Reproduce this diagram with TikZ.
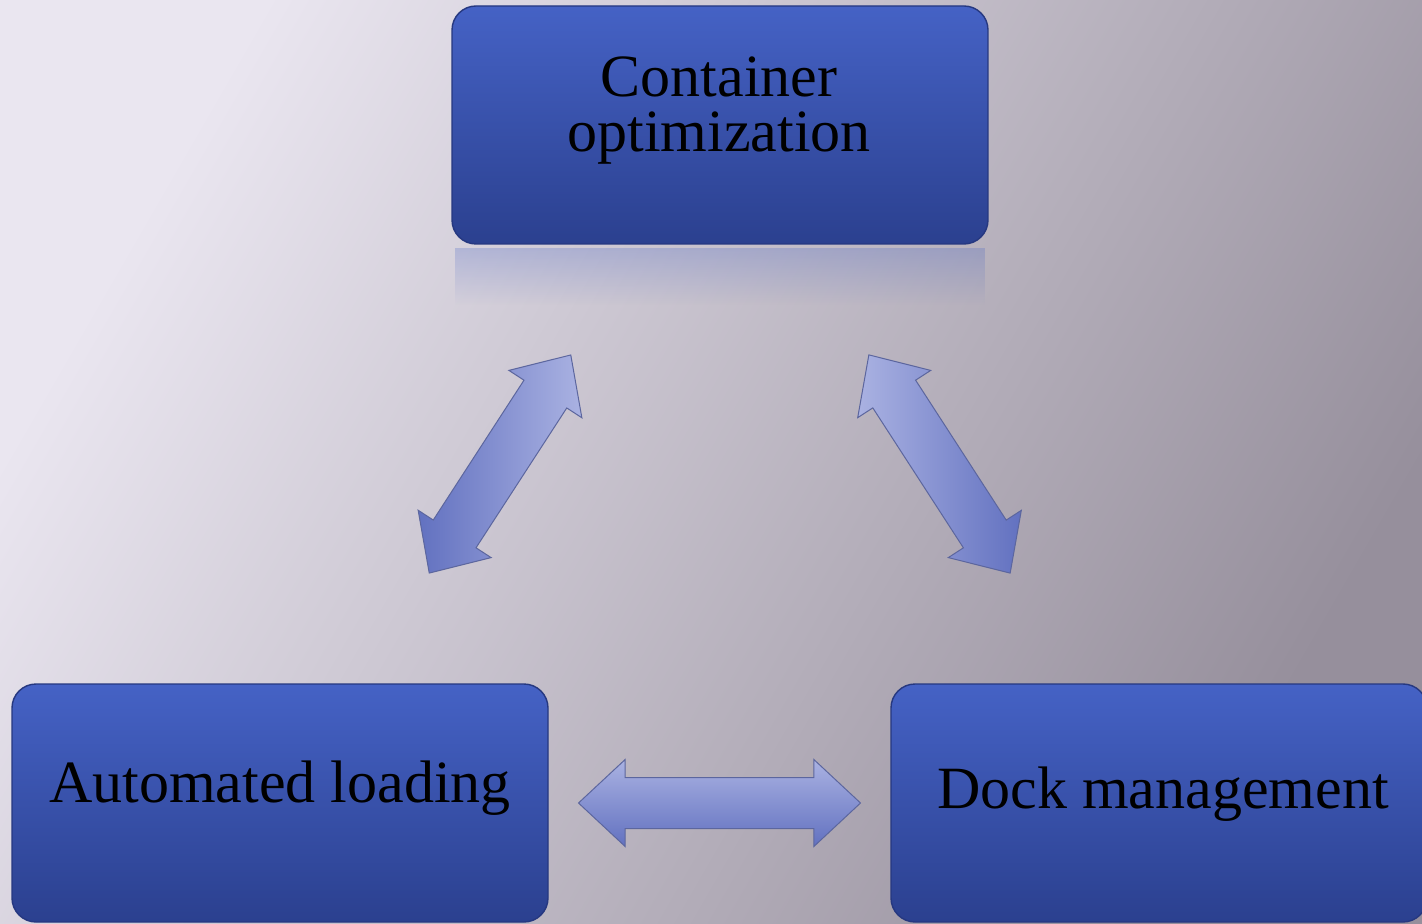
\documentclass[tikz,border=0pt]{standalone}
\usepackage{fontspec}
\setmainfont{Liberation Serif}
\usetikzlibrary{shapes.arrows,fadings}

\definecolor{bgLight}{RGB}{234,230,240}
\definecolor{bgDark}{RGB}{150,143,156}
\definecolor{boxTop}{RGB}{69,98,197}
\definecolor{boxBottom}{RGB}{43,64,143}
\definecolor{boxLine}{RGB}{38,56,128}
\definecolor{arrLight}{RGB}{170,178,226}
\definecolor{arrDark}{RGB}{98,113,192}
\definecolor{arrLine}{RGB}{92,102,158}

\tikzset{
	block/.style={rectangle, rounded corners=12pt, draw=boxLine, line width=0.7pt,
		top color=boxTop, bottom color=boxBottom, minimum width=268pt, minimum height=119pt},
	blocktext/.style={font=\fontsize{30}{27.5}\selectfont, align=center, text=black, inner sep=0pt},
	dblarrow/.style={double arrow, draw=arrLine, line width=0.5pt, inner xsep=0pt, inner ysep=12.5pt,
		double arrow head extend=9pt, double arrow tip angle=86, minimum height=#1, sloped}
}

\begin{document}
\begin{tikzpicture}[x=0.5pt,y=-0.5pt]
	\useasboundingbox (0,0) rectangle (1422,924);
	\clip (0,0) rectangle (1422,924);
	% background
	\shade[left color=bgLight, right color=bgDark, shading angle=60] (0,0) rectangle (1422,924);
	% boxes
	\node[block] (cont) at (720,125) {};
	\node[block] (load) at (280,803) {};
	\node[block] (dock) at (1159,803) {};
	\fill[boxTop, opacity=0.25, path fading=south] (455,248) rectangle (985,305);
	\node[blocktext] (contTxt) at (719,111) {Container\\optimization};
	\node[blocktext, anchor=base] (loadTxt) at (280,802) {Automated loading};
	\node[blocktext, anchor=base] (dockTxt) at (1163,808) {Dock management};
	% arrows
	\path (load.center) -- node[dblarrow=130pt, left color=arrDark, right color=arrLight] (arrLC) {} (cont.center);
	\path (cont.center) -- node[dblarrow=130pt, left color=arrLight, right color=arrDark] (arrCD) {} (dock.center);
	\path (load.center) -- node[dblarrow=141pt, top color=arrLight, bottom color=arrDark] (arrLD) {} (dock.center);
\end{tikzpicture}
\end{document}
